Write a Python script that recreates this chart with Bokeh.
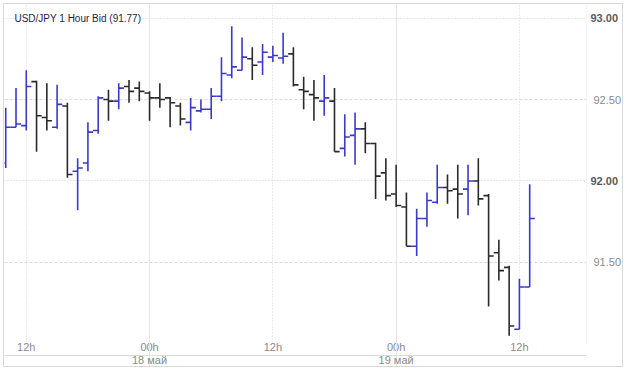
import numpy as np
from bokeh.plotting import figure
from bokeh.models import (ColumnDataSource, FixedTicker, LinearAxis, Grid, Label,
                          Range1d, PrintfTickFormatter)
from bokeh.embed import file_html
from bokeh.resources import INLINE

# hourly bars, index 0 = 17 May 10:00
bar_index = list(range(52))
opens = [92.11, 92.33, 92.34, 92.61, 92.39, 92.33, 92.46, 92.06, 92.11, 92.31,
         92.50, 92.49, 92.58, 92.57, 92.54, 92.51, 92.51, 92.46, 92.36, 92.43,
         92.44, 92.52, 92.65, 92.68, 92.75, 92.73, 92.76, 92.755, 92.78, 92.56,
         92.53, 92.49, 92.49, 92.20, 92.28, 92.32, 92.23, 92.05, 91.92, 91.84,
         91.60, 91.77, 91.87, 91.96, 91.95, 91.95, 92.00, 91.91, 91.56, 91.47,
         91.09, 91.35]
highs = [92.45, 92.57, 92.68, 92.615, 92.60, 92.59, 92.48, 92.14, 92.36, 92.52,
         92.56, 92.60, 92.62, 92.61, 92.55, 92.60, 92.515, 92.48, 92.51, 92.50,
         92.57, 92.76, 92.95, 92.88, 92.82, 92.84, 92.83, 92.91, 92.82, 92.64,
         92.62, 92.65, 92.57, 92.41, 92.42, 92.36, 92.235, 92.14, 92.10, 91.93,
         91.83, 91.93, 92.10, 92.04, 92.10, 92.10, 92.14, 91.92, 91.64, 91.48,
         91.40, 91.98]
lows = [92.08, 92.33, 92.31, 92.18, 92.31, 92.32, 92.02, 91.82, 92.06, 92.29,
        92.37, 92.44, 92.48, 92.49, 92.37, 92.45, 92.33, 92.34, 92.31, 92.42,
        92.38, 92.49, 92.63, 92.68, 92.62, 92.65, 92.73, 92.72, 92.58, 92.44,
        92.37, 92.40, 92.18, 92.15, 92.10, 92.17, 91.89, 91.88, 91.84, 91.60,
        91.54, 91.72, 91.86, 91.86, 91.77, 91.79, 91.85, 91.23, 91.39, 91.05,
        91.09, 91.35]
closes = [92.33, 92.35, 92.58, 92.40, 92.37, 92.47, 92.04, 92.08, 92.30, 92.51,
          92.49, 92.57, 92.55, 92.55, 92.51, 92.50, 92.48, 92.38, 92.45, 92.44,
          92.52, 92.66, 92.70, 92.76, 92.71, 92.79, 92.77, 92.765, 92.59, 92.55,
          92.51, 92.51, 92.18, 92.27, 92.32, 92.23, 92.03, 91.91, 91.85, 91.60,
          91.77, 91.88, 91.96, 91.94, 91.92, 92.00, 91.89, 91.54, 91.45, 91.11,
          91.35, 91.77]

hour_ticks = [2, 14, 26, 38, 50]
hour_labels = ["12h", "00h", "12h", "00h", "12h"]
noon_ticks = [2, 26, 50]
midnight_ticks = [14, 38]
day_labels = ["18 май", "19 май"]
price_major = [92.0, 93.0]
price_minor = [91.5, 92.5]
title_text = "USD/JPY 1 Hour Bid (91.77)"

UP = "#3a3ac8"
DOWN = "#2a2a2a"
FONT = "Liberation Sans"

x = np.array(bar_index, dtype=float)
o = np.array(opens); c = np.array(closes)
colors = [UP if cc >= oo else DOWN for oo, cc in zip(o, c)]
half = 0.5
src = ColumnDataSource(dict(x=x, xl=x - half, xr=x + half, o=o, h=highs, l=lows,
                            c=c, color=colors))

p = figure(width=620, height=364, x_range=Range1d(-0.12, 56.53),
           y_range=Range1d(91.009, 93.083), output_backend="svg",
           toolbar_location=None, y_axis_location="right",
           min_border_left=0, min_border_top=0, min_border_right=0,
           min_border_bottom=0, outline_line_color=None)
p.styles = {"border": "1px solid #d8d8d8", "margin": "3px"}
p.grid.visible = False

# grids
p.add_layout(Grid(dimension=1, ticker=FixedTicker(ticks=price_major),
                  grid_line_color="#cfcfcf", grid_line_dash="1 2"))
p.add_layout(Grid(dimension=1, ticker=FixedTicker(ticks=price_minor),
                  grid_line_color="#dadada", grid_line_dash="3 2"))
p.add_layout(Grid(dimension=0, ticker=FixedTicker(ticks=noon_ticks),
                  grid_line_color="#d8d8d8", grid_line_dash="1 2"))
p.add_layout(Grid(dimension=0, ticker=FixedTicker(ticks=midnight_ticks),
                  grid_line_color="#e6e6e6"))

# bars
p.segment(x0="x", y0="l", x1="x", y1="h", color="color", line_width=1.6, source=src)
p.segment(x0="xl", y0="o", x1="x", y1="o", color="color", line_width=1.6, source=src)
p.segment(x0="x", y0="c", x1="xr", y1="c", color="color", line_width=1.6, source=src)

p.add_layout(Label(x=0.85, y=93.0, text=title_text, text_font_size="10px",
                   text_font=FONT, text_baseline="middle", text_color="#1e1e46",
                   background_fill_color="white"))

# y axes (right)
ya = p.yaxis[0]
ya.ticker = FixedTicker(ticks=price_major)
ya.formatter = PrintfTickFormatter(format="%.2f")
ya.major_label_text_font_style = "bold"
ya.major_label_text_color = "#5a5a5a"
ya.major_label_text_font_size = "11px"
ya.major_label_text_font = FONT
ya.major_tick_out = 0
ya.major_tick_in = 0
ya.minor_tick_out = 0
ya.minor_tick_in = 0
ya.major_label_standoff = 4
ya.axis_line_color = "#dedede"
ya.axis_line_dash = "1 2"

yb = LinearAxis(ticker=FixedTicker(ticks=price_minor),
                formatter=PrintfTickFormatter(format="%.2f"),
                major_label_text_color="#8a8a8a", major_label_text_font_size="11px",
                major_label_text_font=FONT, major_tick_out=0, major_tick_in=0,
                minor_tick_out=0, minor_tick_in=0, major_label_standoff=-28,
                axis_line_color=None)
p.add_layout(yb, "right")

# x axes (hours, then days)
xa = p.xaxis[0]
xa.ticker = FixedTicker(ticks=hour_ticks)
xa.major_label_overrides = {t: s for t, s in zip(hour_ticks, hour_labels)}
xa.major_label_text_align = "left"
xa.major_label_text_font_size = "11px"
xa.major_label_text_font = FONT
xa.major_label_text_color = "#8a8a8a"
xa.major_tick_out = 0
xa.major_tick_in = 0
xa.minor_tick_out = 0
xa.minor_tick_in = 0
xa.major_label_standoff = -2
xa.axis_line_color = None

xd = LinearAxis(ticker=FixedTicker(ticks=midnight_ticks),
                major_label_overrides={t: s for t, s in zip(midnight_ticks, day_labels)},
                major_label_text_align="left", major_label_text_font_size="11px",
                major_label_text_font=FONT, major_label_text_color="#8a8a8a",
                major_tick_in=13, major_tick_out=13, major_tick_line_color="#e6e6e6",
                minor_tick_out=0, minor_tick_in=0, major_label_standoff=-15,
                axis_line_color="#dcdcdc")
p.add_layout(xd, "below")

open("out.html", "w").write(file_html(p, INLINE))
